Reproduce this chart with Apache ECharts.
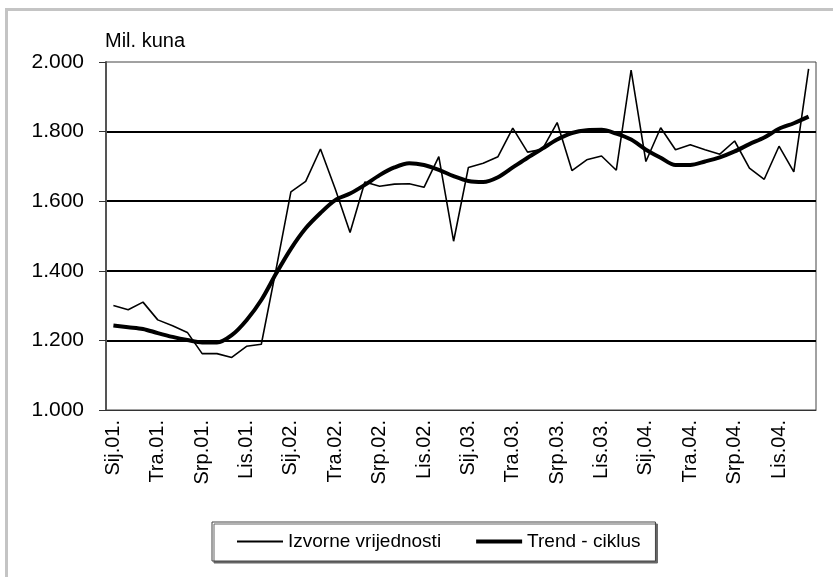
<!DOCTYPE html>
<html>
<head>
<meta charset="utf-8">
<script src="https://cdn.jsdelivr.net/npm/echarts@6/dist/echarts.min.js"></script>
<style>
html,body{margin:0;padding:0;background:#fff;}
#c{width:833px;height:577px;}
</style>
</head>
<body>
<div id="c"></div>
<script>
const months = ['Sij','Velj','Ožu','Tra','Svi','Lip','Srp','Kol','Ruj','Lis','Stu','Pro'];
const years = ['01','02','03','04'];
const categories = years.flatMap(y => months.map(m => m + '.' + y + '.'));

const izvorne = [
  1300,1288,1310,1259,1242,1223,1162,1162,1151,1183,1189,1405,
  1627,1657,1750,1635,1510,1655,1643,1649,1650,1640,1728,1485,
  1697,1709,1728,1810,1741,1749,1826,1688,1719,1730,1689,1977,
  1714,1811,1748,1762,1748,1735,1773,1695,1663,1758,1684,1980
];
const trend = [
  1243,1238,1233,1221,1210,1201,1194,1194,1215,1258,1316,1392,
  1463,1522,1566,1603,1622,1647,1675,1697,1709,1704,1690,1672,
  1658,1655,1669,1697,1725,1751,1777,1796,1804,1805,1794,1777,
  1748,1725,1704,1704,1714,1726,1743,1764,1783,1808,1824,1843
];
const yTicks = [1000,1200,1400,1600,1800,2000];

const FONT = '"Liberation Sans", Arial, sans-serif';
const chart = echarts.init(document.getElementById('c'), null, {renderer:'canvas'});
chart.setOption({
  animation:false,
  backgroundColor:'#fff',
  textStyle:{fontFamily:FONT, color:'#000'},
  graphic:[
    {type:'rect', shape:{x:5, y:8, width:830, height:3}, style:{fill:'#c4c4c4'}, silent:true},
    {type:'rect', shape:{x:5, y:8, width:3, height:575}, style:{fill:'#c4c4c4'}, silent:true},
    {type:'text', left:105, top:31, style:{text:'Mil. kuna', font:'20px ' + FONT, fill:'#000'}}
  ],
  grid:{left:106, right:17, top:62, bottom:167, show:true, borderColor:'#444', borderWidth:1, backgroundColor:'transparent'},
  legend:{
    left:212, top:522,
    orient:'horizontal',
    data:[
      {name:'Izvorne vrijednosti', icon:'path://M0,0 L46,0 L46,2 L0,2 Z'},
      {name:'Trend - ciklus', icon:'path://M0,0 L46,0 L46,4 L0,4 Z'}
    ],
    itemWidth:46, itemHeight:10, itemGap:35,
    symbolKeepAspect:true,
    padding:[10,15,10,25],
    borderColor:'#444', borderWidth:1,
    backgroundColor:'#fff',
    shadowColor:'#666', shadowOffsetX:2, shadowOffsetY:2, shadowBlur:0,
    itemStyle:{color:'#000', borderWidth:0},
    lineStyle:{opacity:0},
    textStyle:{fontSize:19, fontFamily:FONT, color:'#000', padding:[0,0,0,0]}
  },
  xAxis:{
    type:'category',
    data:categories,
    boundaryGap:true,
    axisLine:{lineStyle:{color:'#333', width:1}},
    axisTick:{interval:0, length:6, lineStyle:{color:'#333'}},
    axisLabel:{interval:2, rotate:90, margin:10, fontSize:20, fontFamily:FONT, color:'#000'},
    splitLine:{show:false}
  },
  yAxis:{
    type:'value',
    min:1000, max:2000, interval:200,
    axisLine:{show:true, lineStyle:{color:'#555', width:2}},
    axisTick:{show:true, length:7, lineStyle:{color:'#333'}},
    axisLabel:{margin:22, fontSize:21, fontFamily:FONT, color:'#000',
      formatter: v => (v/1000).toFixed(3)},
    splitLine:{show:true, lineStyle:{width:2, color:['rgba(0,0,0,0)','#000','#000','#000','#000','rgba(0,0,0,0)']}}
  },
  series:[
    {name:'Izvorne vrijednosti', type:'line', data:izvorne, symbol:'none',
      lineStyle:{color:'#000', width:1.6}, itemStyle:{color:'#000'}},
    {name:'Trend - ciklus', type:'line', data:trend, symbol:'none', smooth:0.3,
      lineStyle:{color:'#000', width:4}, itemStyle:{color:'#000'}}
  ]
});
</script>
</body>
</html>
